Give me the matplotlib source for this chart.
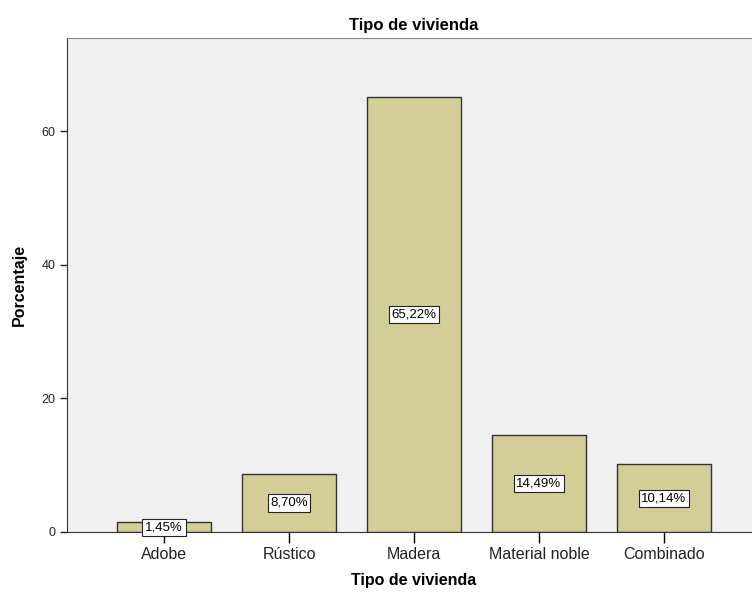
import matplotlib
matplotlib.use("Agg")
import matplotlib.pyplot as plt

plt.rcParams['font.family'] = ['Liberation Sans', 'DejaVu Sans']

# datos
categorias = ["Adobe", "Rústico", "Madera", "Material noble", "Combinado"]
porcentajes = [1.45, 8.70, 65.22, 14.49, 10.14]
etiquetas = ["1,45%", "8,70%", "65,22%", "14,49%", "10,14%"]

fig = plt.figure(figsize=(7.52, 5.99), dpi=100)
ax = fig.add_axes([67/752, 1 - 532/599, (761 - 67)/752, (532 - 38)/599])
ax.set_facecolor('#F0F0F0')

x = list(range(len(categorias)))
ax.bar(x, porcentajes, width=0.75, color='#D3CE98', edgecolor='#333333',
       linewidth=1.0, zorder=2)

# etiquetas en el centro de cada barra
for xi, v, t in zip(x, porcentajes, etiquetas):
    ax.text(xi, v / 2, t, ha='center', va='center', fontsize=9.5, color='black',
            bbox=dict(boxstyle='square,pad=0.2', facecolor='white',
                      edgecolor='#222222', linewidth=0.8), zorder=3)

ax.set_xlim(-0.776, 4.776)
ax.set_ylim(0, 74)
ax.set_yticks([0, 20, 40, 60])
ax.set_xticks(x)
ax.set_xticklabels(categorias, fontsize=11.5, color='#222222')
ax.tick_params(axis='y', labelsize=9, colors='#222222', length=5, width=1)
ax.tick_params(axis='x', length=8, width=1, pad=3)

for s in ['top', 'right']:
    ax.spines[s].set_color('#888888')
ax.spines['left'].set_color('#333333')
ax.spines['bottom'].set_color('#333333')

ax.set_title("Tipo de vivienda", fontsize=12, fontweight='bold', pad=6)
ax.set_xlabel("Tipo de vivienda", fontsize=11.5, fontweight='bold', labelpad=8)
ax.set_ylabel("Porcentaje", fontsize=11.5, fontweight='bold', labelpad=10)

fig.savefig("out.png", dpi=100)
